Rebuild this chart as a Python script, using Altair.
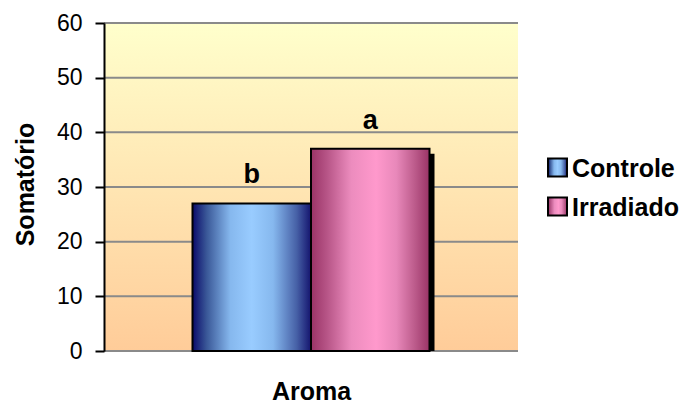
import altair as alt
import pandas as pd

# Chart values
category = "Aroma"
series = ["Controle", "Irradiado"]
values = [27, 37]
letters = ["b", "a"]
y_ticks = [0, 10, 20, 30, 40, 50, 60]

FONT = "Liberation Sans, Arial, sans-serif"
W, H = 414, 328


def hgrad(stops):
    return alt.Gradient(
        gradient="linear",
        stops=[alt.GradientStop(offset=o, color=c) for o, c in stops],
        x1=0, x2=1, y1=0, y2=0,
    )


fills = {
    "Controle": hgrad([
        (0.0, "#0a0a6a"), (0.12, "#3a5898"), (0.32, "#86b8ee"),
        (0.5, "#99ccff"), (0.68, "#86b8ee"), (0.88, "#4660a6"), (1.0, "#14146e"),
    ]),
    "Irradiado": hgrad([
        (0.0, "#993366"), (0.14, "#b85688"), (0.34, "#ec8cbe"),
        (0.55, "#ff99cc"), (0.72, "#e888ba"), (0.88, "#bb5a8a"), (1.0, "#993366"),
    ]),
}

background = alt.Gradient(
    gradient="linear",
    stops=[alt.GradientStop(offset=0, color="#ffffcc"),
           alt.GradientStop(offset=1, color="#ffcc99")],
    x1=0, x2=0, y1=0, y2=1,
)

df = pd.DataFrame({"category": category, "series": series,
                   "value": values, "letter": letters})
grid_df = pd.DataFrame({"value": y_ticks})
one = pd.DataFrame({"k": [0]})

yscale = alt.Scale(domain=[0, 60], nice=False, zero=True)
yaxis = alt.Axis(
    values=y_ticks, grid=False, zindex=1,
    domainColor="black", domainWidth=2,
    tickColor="black", tickWidth=2, tickSize=9,
    labelFont=FONT, labelFontSize=23, labelColor="black", labelPadding=13,
    title="Somatório", titleFont=FONT, titleFontSize=25, titleFontWeight="bold",
    titleColor="black", titleAngle=-90, titleAlign="center",
    titleBaseline="alphabetic", titleX=-71, titleY=161,
)
# the two series share the single "Aroma" group in the middle of the plot
xscale = alt.Scale(domain=series, paddingInner=0, paddingOuter=0.7468)
xaxis = alt.Axis(
    title=category, domain=False, ticks=False, labels=False, zindex=1,
    titleFont=FONT, titleFontSize=25, titleFontWeight="bold", titleColor="black",
    titleBaseline="alphabetic", titleAlign="center", titleX=W / 2, titleY=48,
)
x_enc = alt.X("series:N", sort=series, scale=xscale, axis=xaxis)
y_enc = alt.Y("value:Q", scale=yscale, axis=yaxis)

# plot background
bg = alt.Chart(one).mark_rect(fill=background).encode(
    x=alt.value(0), x2=alt.value(W), y=alt.value(0), y2=alt.value(H)
)

# horizontal gridlines
grid = alt.Chart(grid_df).mark_rule(color="#8a8a8a", strokeWidth=2).encode(
    y=y_enc
)

# drop shadows behind the bars, clipped at the baseline
shadow = alt.Chart(df).mark_bar(
    color="black", xOffset=5, yOffset=5, clip=True
).encode(x=x_enc, y=y_enc)

layers = [bg, grid, shadow]
for s in series:
    layers.append(
        alt.Chart(df).transform_filter(alt.datum.series == s)
        .mark_bar(fill=fills[s], stroke="black", strokeWidth=2)
        .encode(x=x_enc, y=y_enc)
    )

labels = alt.Chart(df).mark_text(
    font=FONT, fontSize=27, fontWeight="bold", color="black",
    baseline="alphabetic", dy=-20,
).encode(x=x_enc, y=y_enc, text="letter:N")
layers.append(labels)

# legend entries
for i, s in enumerate(series):
    cy = 144.5 + 39 * i
    leg_df = pd.DataFrame({"series": [s]})
    layers.append(
        alt.Chart(leg_df).mark_rect(fill=fills[s], stroke="black", strokeWidth=2)
        .encode(x=alt.value(444), x2=alt.value(463),
                y=alt.value(cy - 9), y2=alt.value(cy + 9))
    )
    layers.append(
        alt.Chart(leg_df).mark_text(
            font=FONT, fontSize=25, fontWeight="bold", color="black",
            align="left", baseline="alphabetic",
        ).encode(x=alt.value(468), y=alt.value(cy + 9.5), text="series:N")
    )

chart = alt.layer(*layers).properties(
    width=W, height=H,
    autosize=alt.AutoSizeParams(type="none"),
    padding={"left": 104, "top": 23, "right": 171, "bottom": 57},
    background="white",
).configure_view(strokeWidth=0)

chart.save("out.html", embed_options={"renderer": "svg", "actions": False})
